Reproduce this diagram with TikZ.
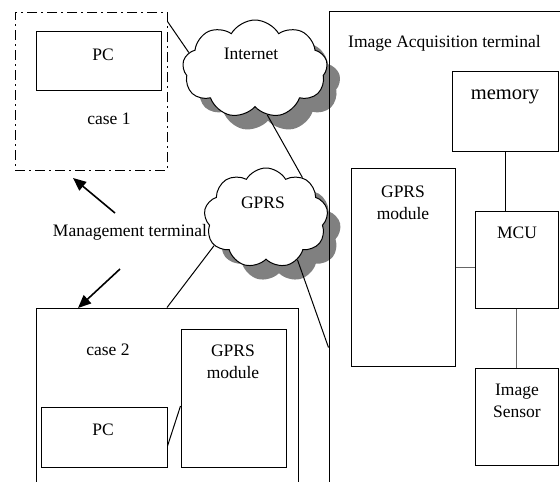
\documentclass[tikz,border=0pt]{standalone}
\usepackage{fontspec}
\setmainfont{Liberation Serif}
\usetikzlibrary{shapes.symbols,shadows,arrows.meta}
\tikzset{
	box/.style 2 args={draw,line width=1pt,inner sep=0pt,minimum width=#1,minimum height=#2},
	net/.style 2 args={cloud,cloud puffs=9,cloud puff arc=120,cloud ignores aspect,draw,line width=1pt,fill=white,inner sep=0pt,minimum width=#1,minimum height=#2,drop shadow={shadow xshift=13pt,shadow yshift=-14pt,fill=black!50,opacity=1}},
	txt/.style={inner sep=0pt,align=center},
	link/.style={line width=1pt},
	goarrow/.style={line width=1.6pt,-{Triangle[length=13pt,width=11pt]}}
}

\begin{document}
\begin{tikzpicture}[x=1pt,y=-1pt,font=\fontsize{17.5}{22}\selectfont]
	\useasboundingbox (0,0) rectangle (560,482);
	\clip (0,0) rectangle (560,482);

	% management terminal, case 1
	\node [box={152pt}{158pt},dash pattern=on 10pt off 4pt on 2pt off 4pt] (case1) at (91,91) {};
	\node [box={125pt}{59pt}] (pc1) at (98.5,60.5) {};
	\node [txt] (pc1txt) at (103,55) {PC};
	\node [txt] (case1txt) at (109,119) {case 1};

	\node [txt] (mgmt) at (130,232) {Management terminal};
	\coordinate (up1) at (115,213);
	\coordinate (up2) at (73,178);
	\coordinate (dn1) at (120,269);
	\coordinate (dn2) at (78,308);
	\draw [goarrow] (up1) -- (up2);
	\draw [goarrow] (dn1) -- (dn2);

	% case 2
	\node [box={262pt}{192pt}] (case2) at (167,404) {};
	\node [txt] (case2txt) at (108,350) {case 2};
	\node [box={105pt}{138pt}] (gprs2) at (233.5,398) {};
	\node [txt] (gprs2txt) at (233,361.5) {GPRS\\module};
	\node [box={126pt}{60pt}] (pc2) at (104,437) {};
	\node [txt] (pc2txt) at (103,430) {PC};
	\draw [link] ([yshift=-9pt]pc2.east) -- ([yshift=-8pt]gprs2.west);

	% networks
	\node [net={145pt}{98pt}] (inet) at (255,69) {};
	\node [txt] (inettxt) at (251,54) {Internet};
	\node [net={124pt}{100pt}] (gprs) at (266,218) {};
	\node [txt] (gprstxt) at (263,203) {GPRS};

	% image acquisition terminal
	\node [box={246pt}{489pt}] (iat) at (452,255.5) {};
	\node [txt,anchor=west] (iattxt) at (348,43) {Image Acquisition terminal};
	\node [box={106pt}{80pt}] (mem) at (505,111) {};
	\node [txt,font=\fontsize{20.5}{24}\selectfont] (memtxt) at (505,97) {memory};
	\node [box={104pt}{198pt}] (gprs1) at (403,267) {};
	\node [txt] (gprs1txt) at (403,202.5) {GPRS\\module};
	\node [box={83pt}{97pt}] (mcu) at (516.5,259.5) {};
	\node [txt] (mcutxt) at (517,233) {MCU};
	\node [box={83pt}{97pt}] (sensor) at (516.5,416.5) {};
	\node [txt] (sensortxt) at (517,401) {Image\\Sensor};

	\draw [link] (mem.south) -- (mem.south |- mcu.north);
	\draw [link,black!60] (gprs1.east) -- (gprs1.east -| mcu.west);
	\draw [link,black!60] (mcu.south) -- (sensor.north);

	\draw [link] ([yshift=-10pt]case1.north east) -- (inet.166);
	\draw [link] (inet.-75) -- (gprs.48);
	\draw [link] (gprs.-152) -- (case2.north);
	\draw [link] (gprs.-53) -- ([yshift=-92pt]iat.west);
\end{tikzpicture}
\end{document}
